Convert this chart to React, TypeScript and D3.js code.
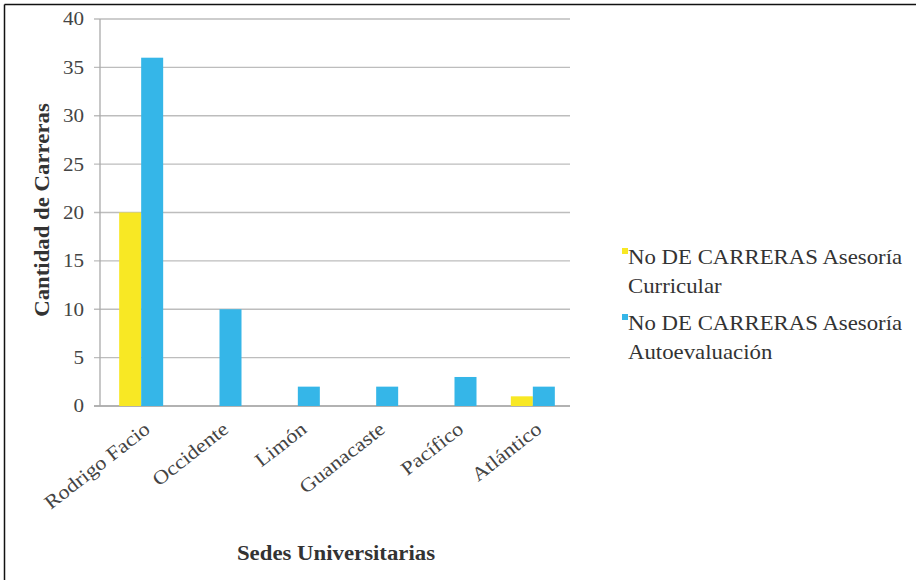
import React from "react";
import * as d3 from "d3";

const categories = ["Rodrigo Facio", "Occidente", "Limón", "Guanacaste", "Pacífico", "Atlántico"];
const curricular = [20, 0, 0, 0, 0, 1];
const autoevaluacion = [36, 10, 2, 2, 3, 2];
const seriesNames = ["No DE CARRERAS Asesoría Curricular", "No DE CARRERAS Asesoría Autoevaluación"];
const legendLines = [["No DE CARRERAS Asesoría", "Curricular"], ["No DE CARRERAS Asesoría", "Autoevaluación"]];
const seriesColors = ["#F8E824", "#35B6E8"];
const yTicks = [0, 5, 10, 15, 20, 25, 30, 35, 40];

const W = 916, H = 580;
const left = 100, right = 570, top = 19, bottom = 406;
const font = "'Liberation Serif', 'Times New Roman', Times, serif";
const SX = 1.14;

function T(props: { x: number; y: number; rot?: number; anchor?: string; size: number; bold?: boolean; fill?: string; children: React.ReactNode }) {
  const { x, y, rot = 0, anchor = "start", size, bold, fill = "#333", children } = props;
  return (
    <text transform={`translate(${x},${y}) rotate(${rot}) scale(${SX},1)`} textAnchor={anchor} dy="0.35em"
      fontFamily={font} fontSize={size} fontWeight={bold ? "bold" : "normal"} fill={fill}>{children}</text>
  );
}

export default function App() {
  const x = d3.scaleBand<string>().domain(categories).range([left, right]).paddingInner(0).paddingOuter(0);
  const y = d3.scaleLinear().domain([0, 40]).range([bottom, top]);
  const inner = d3.scaleBand<number>().domain([0, 1]).range([0, 44]);
  const bw = x.bandwidth();
  const series = [curricular, autoevaluacion];
  return (
    <svg width={W} height={H} style={{ position: "absolute", left: 0, top: 0, background: "#fff" }}>
      <line x1={4.5} x2={W} y1={4.5} y2={4.5} stroke="#111" strokeWidth={1.5} />
      <line x1={4.5} x2={4.5} y1={4.5} y2={H} stroke="#111" strokeWidth={1.5} />
      {yTicks.map((t) => (
        <g key={t}>
          <line x1={left - 6} x2={right} y1={y(t)} y2={y(t)} stroke={t === 0 ? "#999" : "#bdbdbd"} strokeWidth={1.3} />
          <T x={left - 16} y={y(t)} anchor="end" size={18.5} fill="#444">{t}</T>
        </g>
      ))}
      <line x1={left} x2={left} y1={top} y2={bottom} stroke="#aaa" strokeWidth={1.3} />
      {categories.map((c, i) => (
        <g key={c}>
          {series.map((s, j) => (
            <rect key={j} x={(x(c) as number) + bw / 2 - 20 + (inner(j) as number)} y={y(s[i])}
              width={inner.bandwidth()} height={bottom - y(s[i])} fill={seriesColors[j]} />
          ))}
          <T x={(x(c) as number) + bw / 2 + 8} y={bottom + 20} rot={-38} anchor="end" size={19.5} fill="#444">{c}</T>
        </g>
      ))}
      <T x={42} y={210} rot={-90} anchor="middle" size={20} bold>Cantidad de Carreras</T>
      <T x={336} y={553} anchor="middle" size={20} bold>Sedes Universitarias</T>
      {legendLines.map((lines, j) => (
        <g key={j} aria-label={seriesNames[j]}>
          <rect x={622} y={248 + j * 66} width={6} height={6} fill={seriesColors[j]} />
          {lines.map((l, k) => (
            <T key={k} x={628} y={257 + j * 66 + k * 29} size={20}>{l}</T>
          ))}
        </g>
      ))}
    </svg>
  );
}
